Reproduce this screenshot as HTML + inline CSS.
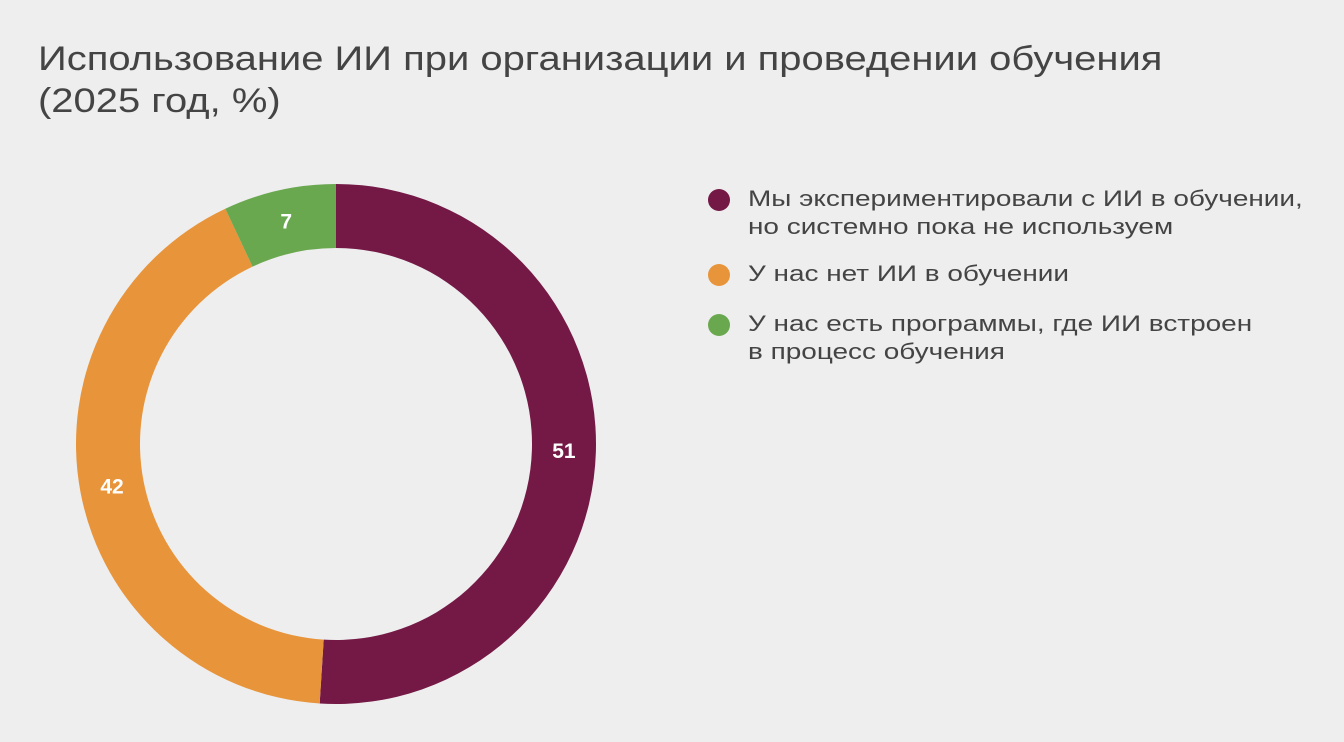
<!DOCTYPE html>
<html><head><meta charset="utf-8">
<style>
body{margin:0;width:1344px;height:742px;background:#eeeeee;font-family:"Liberation Sans",Arial,sans-serif;overflow:hidden;position:relative}
#title{position:absolute;left:38px;top:38px;font-size:34px;line-height:42px;color:#444;margin:0;font-weight:normal;transform:scaleX(1.175);transform-origin:0 0;white-space:nowrap}
svg{position:absolute;left:0;top:0}
.legend{position:absolute;left:708px;font-size:22px;line-height:28px;color:#444;white-space:nowrap}
.dot{position:absolute;left:0;top:4px;width:22px;height:22px;border-radius:50%}
.lt{margin-left:40px;transform:scaleX(1.27);transform-origin:0 0}
</style></head><body>
<h1 id="title">Использование ИИ при организации и проведении обучения<br>(2025 год, %)</h1>
<svg width="1344" height="742"><g id="g"></g></svg>
<div class="legend" style="top:185px"><span class="dot" style="background:#741946"></span><div class="lt">Мы экспериментировали с ИИ в обучении,<br>но системно пока не используем</div></div>
<div class="legend" style="top:260px"><span class="dot" style="background:#e8943a"></span><div class="lt">У нас нет ИИ в обучении</div></div>
<div class="legend" style="top:310px"><span class="dot" style="background:#6aa84f"></span><div class="lt">У нас есть программы, где ИИ встроен<br>в процесс обучения</div></div>
<script>
const categories=["Мы экспериментировали с ИИ в обучении","У нас нет ИИ в обучении","У нас есть программы, где ИИ встроен"];
const values=[51,42,7];
const colors=["#741946","#e8943a","#6aa84f"];
const cx=336,cy=444,R=260,r=196;
const g=document.getElementById('g');
const total=values.reduce((a,b)=>a+b,0);
let a0=0;
function pt(a,rad){return [cx+rad*Math.sin(a),cy-rad*Math.cos(a)];}
values.forEach((v,i)=>{
  const a1=a0+v/total*2*Math.PI;
  const large=(a1-a0)>Math.PI?1:0;
  const p1=pt(a0,R),p2=pt(a1,R),p3=pt(a1,r),p4=pt(a0,r);
  const path=document.createElementNS('http://www.w3.org/2000/svg','path');
  path.setAttribute('d',`M${p1[0]},${p1[1]} A${R},${R} 0 ${large} 1 ${p2[0]},${p2[1]} L${p3[0]},${p3[1]} A${r},${r} 0 ${large} 0 ${p4[0]},${p4[1]} Z`);
  path.setAttribute('fill',colors[i]);
  
  
  g.appendChild(path);
  const am=(a0+a1)/2,lp=pt(am,(R+r)/2);
  const t=document.createElementNS('http://www.w3.org/2000/svg','text');
  t.setAttribute('x',lp[0]);t.setAttribute('y',lp[1]+7);
  t.setAttribute('text-anchor','middle');t.setAttribute('fill','#fff');
  t.setAttribute('font-size','21');t.setAttribute('font-weight','bold');
  t.setAttribute('font-family','Liberation Sans, sans-serif');
  t.textContent=v;
  
  
  g.appendChild(t);
  a0=a1;
});
</script>
</body></html>
